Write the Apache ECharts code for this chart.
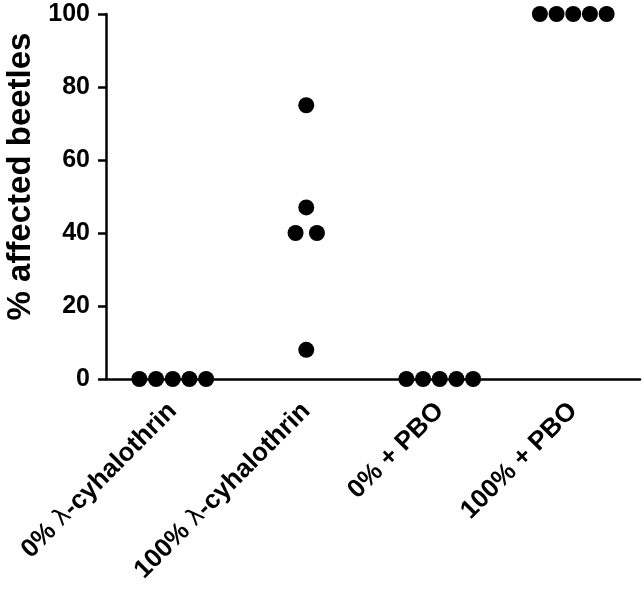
<!DOCTYPE html>
<html>
<head>
<meta charset="utf-8">
<script src="https://cdn.jsdelivr.net/npm/echarts@6/dist/echarts.min.js"></script>
<style>
  html, body { margin: 0; padding: 0; background: #fff; }
  #chart { width: 644px; height: 590px; }
</style>
</head>
<body>
<div id="chart"></div>
<script>
// groups on the x axis
const categories = ['0% λ-cyhalothrin', '100% λ-cyhalothrin', '0% + PBO', '100% + PBO']

// % affected beetles per replicate, one list per group
const values0Lambda = [0, 0, 0, 0, 0]
const values100Lambda = [75, 47, 40, 40, 8]
const values0Pbo = [0, 0, 0, 0, 0]
const values100Pbo = [100, 100, 100, 100, 100]

// horizontal spread of the dots inside each group (fraction of a group slot)
const jitter0Lambda = [-0.25, -0.125, 0, 0.125, 0.25]
const jitter100Lambda = [0, 0, -0.08, 0.08, 0]
const jitter0Pbo = [-0.25, -0.125, 0, 0.125, 0.25]
const jitter100Pbo = [-0.25, -0.125, 0, 0.125, 0.25]

const yTicks = [0, 20, 40, 60, 80, 100]

const groups = [
  { values: values0Lambda, jitter: jitter0Lambda },
  { values: values100Lambda, jitter: jitter100Lambda },
  { values: values0Pbo, jitter: jitter0Pbo },
  { values: values100Pbo, jitter: jitter100Pbo }
]

const points = []
groups.forEach((g, i) => {
  g.values.forEach((v, j) => points.push([i + g.jitter[j], v]))
})

const font = '"Liberation Sans", Arial, sans-serif'
const ink = '#000'

const chart = echarts.init(document.getElementById('chart'))

chart.setOption({
  animation: false,
  backgroundColor: '#fff',
  grid: {
    left: 106, right: 4, top: 14, bottom: 211,
    containLabel: false,
    outerBoundsMode: 'none'
  },
  xAxis: [
    {
      type: 'category',
      data: categories,
      boundaryGap: true,
      axisLine: { lineStyle: { color: ink, width: 2.5 } },
      axisTick: { alignWithLabel: true, length: 8, lineStyle: { color: ink, width: 2.5 } },
      axisLabel: {
        rotate: 45,
        margin: 28,
        interval: 0,
        color: ink,
        fontFamily: font,
        fontWeight: 'bold',
        fontSize: 26,
        formatter: v => v.replace('λ', '{l|λ}'),
        rich: {
          l: { fontFamily: 'DejaVu Sans', fontWeight: 'normal', fontSize: 24, color: ink }
        }
      },
      splitLine: { show: false }
    },
    {
      type: 'value',
      min: -0.5,
      max: 3.5,
      show: false
    }
  ],
  yAxis: {
    type: 'value',
    min: yTicks[0],
    max: yTicks[yTicks.length - 1],
    interval: yTicks[1] - yTicks[0],
    name: '% affected beetles',
    nameLocation: 'middle',
    nameGap: 68,
    nameTextStyle: {
      color: ink,
      fontFamily: font,
      fontWeight: 'bold',
      fontSize: 33,
      padding: [0, 0, 0, 40]
    },
    axisLine: { show: true, onZero: false, lineStyle: { color: ink, width: 2.5 } },
    axisTick: { show: true, length: 8, lineStyle: { color: ink, width: 2.5 } },
    axisLabel: {
      margin: 16,
      color: ink,
      fontFamily: font,
      fontWeight: 'bold',
      fontSize: 25
    },
    splitLine: { show: false }
  },
  series: [
    {
      type: 'scatter',
      xAxisIndex: 1,
      data: points,
      symbol: 'circle',
      symbolSize: 16,
      clip: false,
      itemStyle: { color: ink, opacity: 1 }
    }
  ]
})
</script>
</body>
</html>
